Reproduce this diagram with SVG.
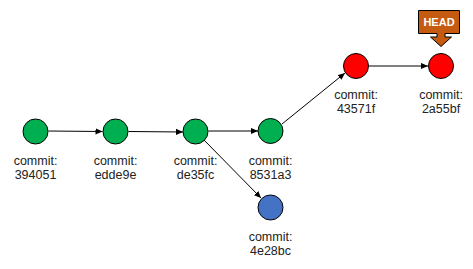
<svg xmlns="http://www.w3.org/2000/svg" width="473" height="269" viewBox="0 0 473 269">
<style>
.c{stroke:#000;stroke-width:1}
.g{fill:#00b050}
.r{fill:#ff0000}
.b{fill:#4472c4}
.t{font-family:"Liberation Sans",Arial,sans-serif;font-size:12.5px;fill:#222;text-anchor:middle}
.e{stroke:#000;stroke-width:1;fill:none;marker-end:url(#a)}
</style>
<defs>
<marker id="a" viewBox="0 0 8 8" refX="8" refY="4" markerWidth="7" markerHeight="7" markerUnits="userSpaceOnUse" orient="auto">
<path d="M0,0.5 L8,4 L0,7.5 Z" fill="#000"/>
</marker>
</defs>
<rect width="473" height="269" fill="#fff"/>
<g id="connectors">
<line class="e" x1="48.5" y1="131" x2="102.5" y2="131.5"/>
<line class="e" x1="128.5" y1="131.5" x2="183" y2="132"/>
<line class="e" x1="208.5" y1="131" x2="258" y2="131"/>
<line class="e" x1="204" y1="140" x2="261" y2="198"/>
<line class="e" x1="282" y1="124" x2="345" y2="73"/>
<line class="e" x1="369" y1="66" x2="428" y2="66"/>
</g>
<g id="n394051"><circle class="c g" cx="35.5" cy="131.5" r="12.5"/><text class="t" x="35.5" y="164.5">commit:</text><text class="t" x="35.5" y="178.5">394051</text></g>
<g id="nedde9e"><circle class="c g" cx="115.5" cy="131.5" r="12.5"/><text class="t" x="115.5" y="164.5">commit:</text><text class="t" x="115.5" y="178.5">edde9e</text></g>
<g id="nde35fc"><circle class="c g" cx="195.5" cy="131.5" r="12.5"/><text class="t" x="195.5" y="164.5">commit:</text><text class="t" x="195.5" y="178.5">de35fc</text></g>
<g id="n8531a3"><circle class="c g" cx="270.5" cy="131" r="12.5"/><text class="t" x="270.5" y="164.5">commit:</text><text class="t" x="270.5" y="178.5">8531a3</text></g>
<g id="n4e28bc"><circle class="c b" cx="270.5" cy="207.5" r="12.5"/><text class="t" x="270.5" y="240.5">commit:</text><text class="t" x="270.5" y="254.5">4e28bc</text></g>
<g id="n43571f"><circle class="c r" cx="356" cy="66" r="12.5"/><text class="t" x="356" y="98.5">commit:</text><text class="t" x="356" y="112.5">43571f</text></g>
<g id="n2a55bf"><circle class="c r" cx="441" cy="66" r="12.5"/><text class="t" x="441" y="98.5">commit:</text><text class="t" x="441" y="112.5">2a55bf</text></g>
<g id="head">
<path d="M418.5,10.5 H459.5 V33.5 H445 V37 H451.5 L441,46.5 L430.5,37 H437 V33.5 H418.5 Z" fill="#c55a11" stroke="#000" stroke-width="1"/>
<text x="439" y="26" font-family="'Liberation Sans',Arial,sans-serif" font-size="11" font-weight="bold" fill="#fff" text-anchor="middle">HEAD</text>
</g>
</svg>
